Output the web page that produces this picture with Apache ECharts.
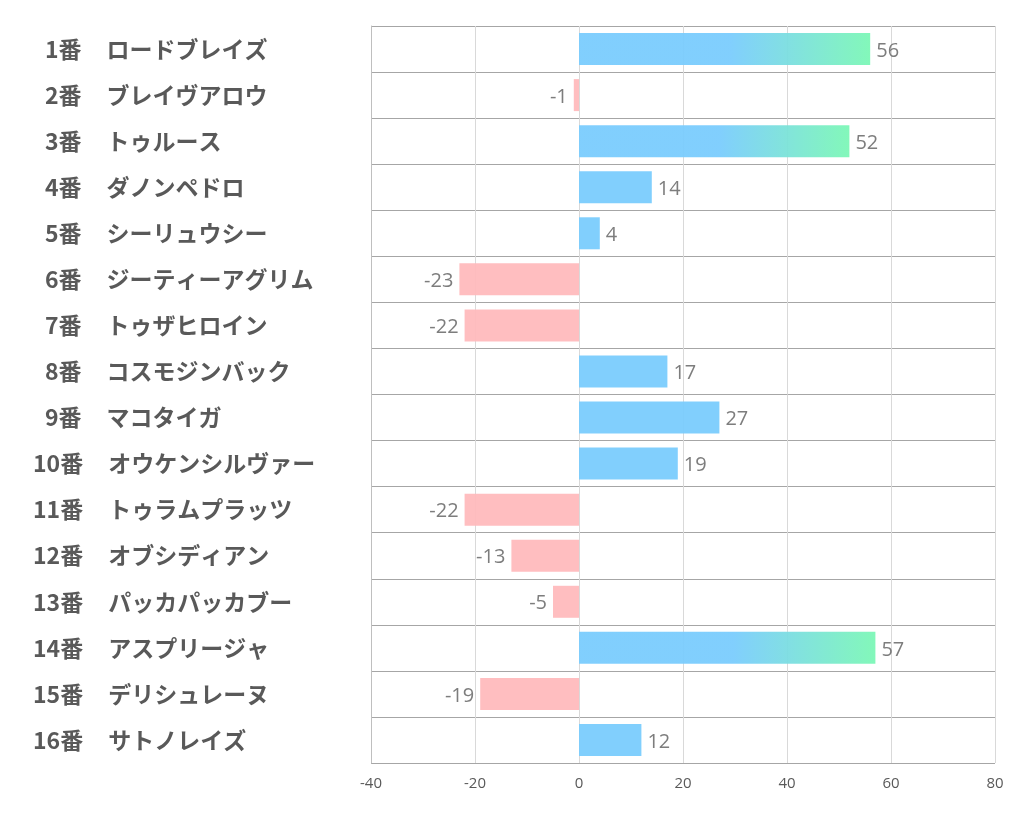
<!DOCTYPE html>
<html><head><meta charset="utf-8">
<script src="https://cdn.jsdelivr.net/npm/echarts@6/dist/echarts.min.js"></script>
<style>html,body{margin:0;padding:0;background:#fff}#c{width:1022px;height:834px}</style>
</head><body><div id="c"></div>
<script>
const numbers = ["1番","2番","3番","4番","5番","6番","7番","8番","9番","10番","11番","12番","13番","14番","15番","16番"];
const names = ["ロードブレイズ","ブレイヴアロウ","トゥルース","ダノンペドロ","シーリュウシー","ジーティーアグリム","トゥザヒロイン","コスモジンバック","マコタイガ","オウケンシルヴァー","トゥラムプラッツ","オブシディアン","パッカパッカブー","アスプリージャ","デリシュレーヌ","サトノレイズ"];
const values = [56,-1,52,14,4,-23,-22,17,27,19,-22,-13,-5,57,-19,12];
const xTicks = [-40,-20,0,20,40,60,80];

const BLUE = '#7accfd', PINK = '#ffbbbd', GREEN = '#7cf7b6';
const chart = echarts.init(document.getElementById('c'), null, {renderer:'canvas'});
const data = values.map(v => {
  let color;
  if (v < 0) color = PINK;
  else if (v >= 50) color = new echarts.graphic.LinearGradient(0,0,1,0,[{offset:0,color:BLUE},{offset:0.52,color:BLUE},{offset:1,color:GREEN}]);
  else color = BLUE;
  return {value:v, itemStyle:{color:color, opacity:0.95},
    label:{position: v < 0 ? 'left' : 'right'}};
});
const F = 'Noto Sans CJK JP';
const txt = {fontSize:23,fontWeight:'bold',color:'#595959',fontFamily:F};
chart.setOption({
  animation:false,
  grid:{left:371,right:27,top:26,bottom:71,containLabel:false},
  xAxis:{type:'value',min:xTicks[0],max:xTicks[xTicks.length-1],interval:20,
    axisLine:{show:false},axisTick:{show:false},
    splitLine:{show:true,lineStyle:{color:'#d9d9d9',width:1}},
    axisLabel:{color:'#595959',fontSize:15,margin:13,fontFamily:'Open Sans, Noto Sans CJK JP'}},
  yAxis:{type:'category',inverse:true,data:names.map((n,i)=>i),
    axisLine:{show:true,onZero:false,lineStyle:{color:'#bfbfbf'}},axisTick:{show:false},
    splitLine:{show:true,lineStyle:{color:'#a6a6a6',width:1}},
    axisLabel:{align:'left',margin:338,
      formatter:(v)=> numbers[v].length < 3 ? '{n1|'+numbers[v]+'}{s|'+names[v]+'}' : '{n2|'+numbers[v]+'}{s|'+names[v]+'}',
      rich:{
        n1:Object.assign({padding:[0,0,0,12]},txt),
        n2:Object.assign({},txt),
        s:Object.assign({padding:[0,0,0,25]},txt)
      }}},
  series:[{type:'bar',data:data,barWidth:32,
    label:{show:true,distance:6,color:'#767676',fontSize:20,fontFamily:'Open Sans, Noto Sans CJK JP',offset:[0,2]}}]
});
</script></body></html>
